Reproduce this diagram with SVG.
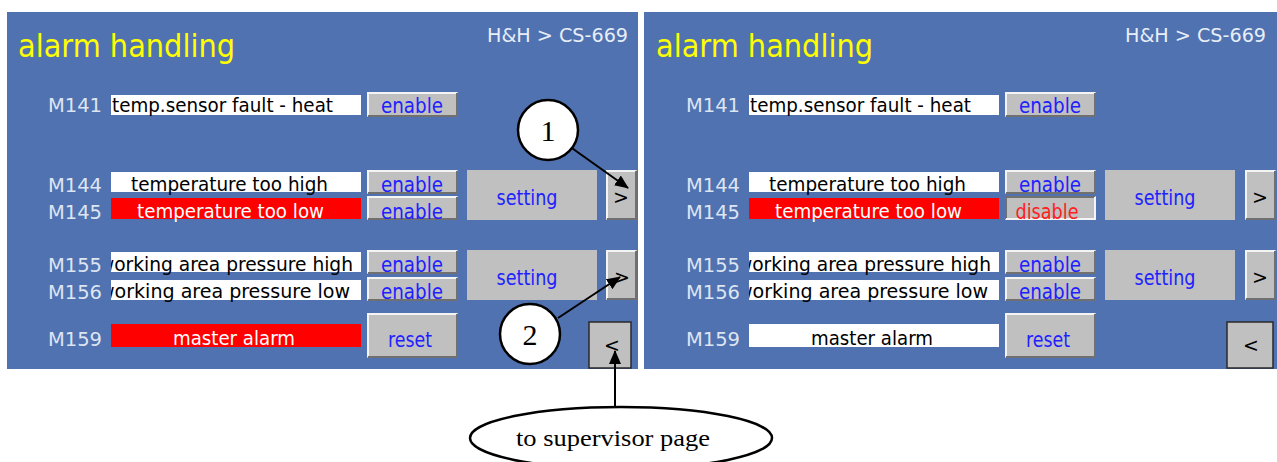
<svg xmlns="http://www.w3.org/2000/svg" width="1277" height="462" viewBox="0 0 1277 462">
<defs>
<style>
.bg{fill:#5072b0}
.title{font-family:"DejaVu Sans Condensed","DejaVu Sans",sans-serif;font-size:32px;fill:#ffff00}
.crumb{font-family:"DejaVu Sans Condensed","DejaVu Sans",sans-serif;font-size:19px;fill:#e8eef8}
.lbl{font-family:"DejaVu Sans Condensed","DejaVu Sans",sans-serif;font-size:20px;fill:#dde5f2}
.box{fill:#ffffff}
.red{fill:#ff0000}
.bt{font-family:"DejaVu Sans Condensed","DejaVu Sans",sans-serif;font-size:20px;fill:#000000}
.wt{font-family:"DejaVu Sans Condensed","DejaVu Sans",sans-serif;font-size:20px;fill:#ffffff}
.btn{fill:#c0c0c0}
.hi{fill:none;stroke:#f4f4f4;stroke-width:2}
.lo{fill:none;stroke:#707070;stroke-width:2}
.btxt{font-family:"DejaVu Sans Condensed","DejaVu Sans",sans-serif;font-size:22px;fill:#2020ff;text-anchor:middle}
.rtxt{font-family:"DejaVu Sans Condensed","DejaVu Sans",sans-serif;font-size:22px;fill:#ff2020;text-anchor:middle}
.ktxt{font-family:"DejaVu Sans",sans-serif;font-size:19px;fill:#000;text-anchor:middle}
.nav{fill:#c0c0c0;stroke:#2a2a2a;stroke-width:1.5}
.callout{fill:#ffffff;stroke:#000;stroke-width:2.5}
.ctxt{font-family:"Liberation Serif",serif;font-size:30px;fill:#000;text-anchor:middle}
.conn{stroke:#000;stroke-width:2;fill:none}
.etxt{font-family:"Liberation Serif",serif;font-size:23px;fill:#000;text-anchor:middle}
</style>
<marker id="ah" markerWidth="14" markerHeight="12" refX="13" refY="6" orient="auto" markerUnits="userSpaceOnUse" viewBox="0 0 14 12">
<path d="M0,0 L14,6 L0,12 Z" fill="#000"/>
</marker>
<clipPath id="c1"><rect x="111" y="250" width="250" height="52"/></clipPath>
<clipPath id="c2"><rect x="749" y="250" width="250" height="52"/></clipPath>
</defs>

<!-- LEFT PANEL -->
<g id="panel-left">
<rect class="bg" x="7" y="12" width="631" height="357"/>
<text class="title" x="18" y="57" textLength="217" lengthAdjust="spacingAndGlyphs">alarm handling</text>
<text class="crumb" x="487" y="42" textLength="141" lengthAdjust="spacingAndGlyphs">H&amp;H &gt; CS-669</text>
</g>

<g id="L-M141">
<text class="lbl" x="48" y="112" textLength="54" lengthAdjust="spacingAndGlyphs">M141</text>
<rect class="box" x="111" y="95" width="250" height="20"/>
<text class="bt" x="112" y="112" textLength="221" lengthAdjust="spacingAndGlyphs">temp.sensor fault - heat</text>
<rect class="btn" x="367" y="92" width="91" height="25"/>
<polyline class="hi" points="368,116 368,93 457,93"/><polyline class="lo" points="368,116 457,116 457,93"/>
<text class="btxt" x="412" y="113" textLength="62" lengthAdjust="spacingAndGlyphs">enable</text>
</g>

<g id="L-M144">
<text class="lbl" x="48" y="192" textLength="54" lengthAdjust="spacingAndGlyphs">M144</text>
<rect class="box" x="111" y="172" width="250" height="20"/>
<text class="bt" x="131" y="191" textLength="197" lengthAdjust="spacingAndGlyphs">temperature too high</text>
<rect class="btn" x="367" y="170" width="91" height="24"/>
<polyline class="hi" points="368,193 368,171 457,171"/><polyline class="lo" points="368,193 457,193 457,171"/>
<text class="btxt" x="412" y="192" textLength="62" lengthAdjust="spacingAndGlyphs">enable</text>
</g>

<g id="L-M145">
<text class="lbl" x="48" y="219" textLength="54" lengthAdjust="spacingAndGlyphs">M145</text>
<rect class="red" x="111" y="198" width="250" height="21"/>
<text class="wt" x="137" y="218" textLength="187" lengthAdjust="spacingAndGlyphs">temperature too low</text>
<rect class="btn" x="367" y="196" width="91" height="24"/>
<polyline class="hi" points="368,219 368,197 457,197"/><polyline class="lo" points="368,219 457,219 457,197"/>
<text class="btxt" x="412" y="219" textLength="62" lengthAdjust="spacingAndGlyphs">enable</text>
</g>

<g id="L-setting1">
<rect class="btn" x="467" y="170" width="130" height="50"/>
<text class="btxt" x="527" y="205" textLength="61" lengthAdjust="spacingAndGlyphs">setting</text>
</g>
<g id="L-next1">
<rect class="btn" x="606" y="170" width="31" height="50"/>
<polyline class="hi" points="607,219 607,171 636,171"/><polyline class="lo" points="607,219 636,219 636,171"/>
<text class="ktxt" x="621" y="204">&gt;</text>
</g>

<g id="L-M155">
<text class="lbl" x="48" y="272" textLength="54" lengthAdjust="spacingAndGlyphs">M155</text>
<rect class="box" x="111" y="252" width="250" height="20"/>
<text class="bt" x="353" y="271" text-anchor="end" clip-path="url(#c1)" textLength="254" lengthAdjust="spacingAndGlyphs">working area pressure high</text>
<rect class="btn" x="367" y="250" width="91" height="24"/>
<polyline class="hi" points="368,273 368,251 457,251"/><polyline class="lo" points="368,273 457,273 457,251"/>
<text class="btxt" x="412" y="272" textLength="62" lengthAdjust="spacingAndGlyphs">enable</text>
</g>

<g id="L-M156">
<text class="lbl" x="48" y="299" textLength="54" lengthAdjust="spacingAndGlyphs">M156</text>
<rect class="box" x="111" y="280" width="250" height="20"/>
<text class="bt" x="350" y="298" text-anchor="end" clip-path="url(#c1)" textLength="251" lengthAdjust="spacingAndGlyphs">working area pressure low</text>
<rect class="btn" x="367" y="277" width="91" height="24"/>
<polyline class="hi" points="368,300 368,278 457,278"/><polyline class="lo" points="368,300 457,300 457,278"/>
<text class="btxt" x="412" y="299" textLength="62" lengthAdjust="spacingAndGlyphs">enable</text>
</g>

<g id="L-setting2">
<rect class="btn" x="467" y="250" width="130" height="50"/>
<text class="btxt" x="527" y="285" textLength="61" lengthAdjust="spacingAndGlyphs">setting</text>
</g>
<g id="L-next2">
<rect class="btn" x="606" y="250" width="31" height="50"/>
<polyline class="hi" points="607,299 607,251 636,251"/><polyline class="lo" points="607,299 636,299 636,251"/>
<text class="ktxt" x="622" y="284">&gt;</text>
</g>

<g id="L-M159">
<text class="lbl" x="48" y="346" textLength="54" lengthAdjust="spacingAndGlyphs">M159</text>
<rect class="red" x="111" y="324" width="250" height="23"/>
<text class="wt" x="173" y="345" textLength="122" lengthAdjust="spacingAndGlyphs">master alarm</text>
<rect class="btn" x="367" y="313" width="91" height="45"/>
<polyline class="hi" points="368,357 368,314 457,314"/><polyline class="lo" points="368,357 457,357 457,314"/>
<text class="btxt" x="410" y="347" textLength="44" lengthAdjust="spacingAndGlyphs">reset</text>
</g>

<g id="L-back">
<rect class="nav" x="589" y="322" width="42" height="46"/>
<text class="ktxt" x="612" y="352">&lt;</text>
</g>

<!-- RIGHT PANEL -->
<g id="panel-right">
<rect class="bg" x="644" y="12" width="633" height="357"/>
<text class="title" x="656" y="57" textLength="217" lengthAdjust="spacingAndGlyphs">alarm handling</text>
<text class="crumb" x="1125" y="42" textLength="141" lengthAdjust="spacingAndGlyphs">H&amp;H &gt; CS-669</text>
</g>

<g id="R-M141">
<text class="lbl" x="686" y="112" textLength="54" lengthAdjust="spacingAndGlyphs">M141</text>
<rect class="box" x="749" y="95" width="250" height="20"/>
<text class="bt" x="750" y="112" textLength="221" lengthAdjust="spacingAndGlyphs">temp.sensor fault - heat</text>
<rect class="btn" x="1005" y="92" width="91" height="25"/>
<polyline class="hi" points="1006,116 1006,93 1095,93"/><polyline class="lo" points="1006,116 1095,116 1095,93"/>
<text class="btxt" x="1050" y="113" textLength="62" lengthAdjust="spacingAndGlyphs">enable</text>
</g>

<g id="R-M144">
<text class="lbl" x="686" y="192" textLength="54" lengthAdjust="spacingAndGlyphs">M144</text>
<rect class="box" x="749" y="172" width="250" height="20"/>
<text class="bt" x="769" y="191" textLength="197" lengthAdjust="spacingAndGlyphs">temperature too high</text>
<rect class="btn" x="1005" y="170" width="91" height="24"/>
<polyline class="hi" points="1006,193 1006,171 1095,171"/><polyline class="lo" points="1006,193 1095,193 1095,171"/>
<text class="btxt" x="1050" y="192" textLength="62" lengthAdjust="spacingAndGlyphs">enable</text>
</g>

<g id="R-M145">
<text class="lbl" x="686" y="219" textLength="54" lengthAdjust="spacingAndGlyphs">M145</text>
<rect class="red" x="749" y="198" width="250" height="21"/>
<text class="wt" x="775" y="218" textLength="187" lengthAdjust="spacingAndGlyphs">temperature too low</text>
<rect class="btn" x="1005" y="196" width="91" height="24"/>
<polyline class="lo" points="1006,219 1006,197 1095,197"/><polyline class="hi" points="1006,219 1095,219 1095,197"/>
<text class="rtxt" x="1047" y="219" textLength="63" lengthAdjust="spacingAndGlyphs">disable</text>
</g>

<g id="R-setting1">
<rect class="btn" x="1105" y="170" width="130" height="50"/>
<text class="btxt" x="1165" y="205" textLength="61" lengthAdjust="spacingAndGlyphs">setting</text>
</g>
<g id="R-next1">
<rect class="btn" x="1245" y="170" width="31" height="50"/>
<polyline class="hi" points="1246,219 1246,171 1275,171"/><polyline class="lo" points="1246,219 1275,219 1275,171"/>
<text class="ktxt" x="1260" y="204">&gt;</text>
</g>

<g id="R-M155">
<text class="lbl" x="686" y="272" textLength="54" lengthAdjust="spacingAndGlyphs">M155</text>
<rect class="box" x="749" y="252" width="250" height="20"/>
<text class="bt" x="991" y="271" text-anchor="end" clip-path="url(#c2)" textLength="254" lengthAdjust="spacingAndGlyphs">working area pressure high</text>
<rect class="btn" x="1005" y="250" width="91" height="24"/>
<polyline class="hi" points="1006,273 1006,251 1095,251"/><polyline class="lo" points="1006,273 1095,273 1095,251"/>
<text class="btxt" x="1050" y="272" textLength="62" lengthAdjust="spacingAndGlyphs">enable</text>
</g>

<g id="R-M156">
<text class="lbl" x="686" y="299" textLength="54" lengthAdjust="spacingAndGlyphs">M156</text>
<rect class="box" x="749" y="280" width="250" height="20"/>
<text class="bt" x="988" y="298" text-anchor="end" clip-path="url(#c2)" textLength="251" lengthAdjust="spacingAndGlyphs">working area pressure low</text>
<rect class="btn" x="1005" y="277" width="91" height="24"/>
<polyline class="hi" points="1006,300 1006,278 1095,278"/><polyline class="lo" points="1006,300 1095,300 1095,278"/>
<text class="btxt" x="1050" y="299" textLength="62" lengthAdjust="spacingAndGlyphs">enable</text>
</g>

<g id="R-setting2">
<rect class="btn" x="1105" y="250" width="130" height="50"/>
<text class="btxt" x="1165" y="285" textLength="61" lengthAdjust="spacingAndGlyphs">setting</text>
</g>
<g id="R-next2">
<rect class="btn" x="1245" y="250" width="31" height="50"/>
<polyline class="hi" points="1246,299 1246,251 1275,251"/><polyline class="lo" points="1246,299 1275,299 1275,251"/>
<text class="ktxt" x="1260" y="284">&gt;</text>
</g>

<g id="R-M159">
<text class="lbl" x="686" y="346" textLength="54" lengthAdjust="spacingAndGlyphs">M159</text>
<rect class="box" x="749" y="324" width="250" height="23"/>
<text class="bt" x="811" y="345" textLength="122" lengthAdjust="spacingAndGlyphs">master alarm</text>
<rect class="btn" x="1005" y="313" width="91" height="45"/>
<polyline class="hi" points="1006,357 1006,314 1095,314"/><polyline class="lo" points="1006,357 1095,357 1095,314"/>
<text class="btxt" x="1048" y="347" textLength="44" lengthAdjust="spacingAndGlyphs">reset</text>
</g>

<g id="R-back">
<rect class="nav" x="1227" y="322" width="46" height="46"/>
<text class="ktxt" x="1251" y="352">&lt;</text>
</g>

<!-- CONNECTORS -->
<g id="connectors">
<line class="conn" x1="569" y1="146" x2="628" y2="188" marker-end="url(#ah)"/>
<line class="conn" x1="558" y1="318" x2="620" y2="277" marker-end="url(#ah)"/>
<line class="conn" x1="615" y1="407" x2="615" y2="351" marker-end="url(#ah)"/>
</g>

<!-- CALLOUTS -->
<g id="callout-1">
<ellipse class="callout" cx="548" cy="130" rx="30" ry="30"/>
<text class="ctxt" x="548" y="141">1</text>
</g>
<g id="callout-2">
<ellipse class="callout" cx="530" cy="334" rx="30" ry="30"/>
<text class="ctxt" x="530" y="345">2</text>
</g>
<g id="supervisor-note">
<ellipse cx="621" cy="438" rx="151" ry="31" fill="#ffffff" stroke="#000" stroke-width="2.5"/>
<text class="etxt" x="613" y="446" textLength="194" lengthAdjust="spacingAndGlyphs">to supervisor page</text>
</g>
</svg>
